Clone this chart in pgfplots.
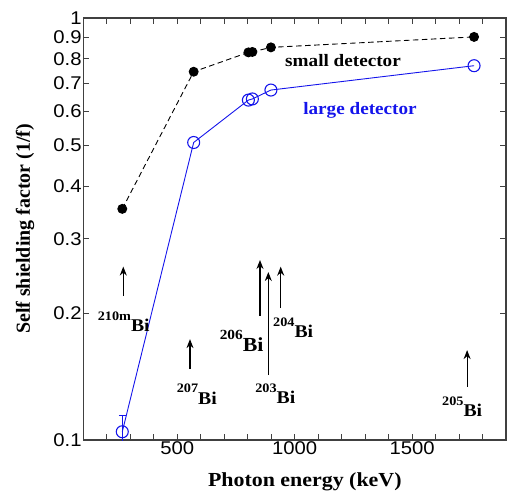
\documentclass[border=0pt]{standalone}
\usepackage{pgfplots}
\pgfplotsset{compat=1.18}
\usetikzlibrary{arrows.meta}
\usepackage{fontspec}
\setmainfont{Liberation Serif}
\newfontfamily\tickfont[FakeStretch=1.1]{Liberation Sans}
\newfontfamily\lblfont[FakeStretch=1.1]{Liberation Serif}
\newfontfamily\ylblfont{Liberation Serif}
\definecolor{lineblue}{RGB}{20,20,235}
% isotope label: raised mass number followed by the element symbol
\newcommand\iso[3][18]{{\lblfont\bfseries\fontsize{#1}{#1}\selectfont
  \raisebox{0.62em}{\fontsize{\numexpr #1*7/10\relax}{12}\selectfont #2}#3}}

\begin{document}
\begin{tikzpicture}
\begin{axis}[
  name=ax,
  scale only axis,
  width=422.7bp, height=422bp,
  xmin=100, xmax=1900,
  ymode=log, ymin=0.1, ymax=1,
  xtick={500,1000,1500},
  xticklabels={500,1000,1500},
  minor xtick={200,300,...,1900},
  ytick={0.1,0.2,0.3,0.4,0.5,0.6,0.7,0.8,0.9,1},
  yticklabels={0.1,0.2,0.3,0.4,0.5,0.6,0.7,0.8,0.9,1},
  minor ytick={},
  tick align=inside,
  major tick length=6bp, minor tick length=6bp,
  tick style={black!75, line width=0.8pt},
  axis line style={black!75, line width=1.1pt},
  /pgf/number format/assume math mode=true,
  tick label style={font=\tickfont\fontsize{18.5}{19}\selectfont, inner sep=1.5pt},
  xlabel={Photon energy (keV)},
  xlabel style={font=\lblfont\bfseries\fontsize{20}{20}\selectfont,
    at={(axis description cs:0.524,0)}, anchor=base, yshift=-46.7bp},
  ylabel={Self shielding factor (1/f)},
  ylabel style={font=\ylblfont\bfseries\fontsize{20}{20}\selectfont,
    at={(axis description cs:-0.138,0.5)}, anchor=center},
]
% error bars of the points that carry one
\addplot[black, draw=none, mark=none,
  error bars/.cd, y dir=both, y explicit,
  error bar style={solid, line width=0.9pt},
  error mark options={rotate=90, mark size=3bp, line width=0.9pt}]
  coordinates {(1764,0.902) +- (0,0.009)};
\addplot[lineblue, draw=none, mark=none,
  error bars/.cd, y dir=both, y explicit,
  error bar style={line width=0.9pt},
  error mark options={rotate=90, mark size=3.5bp, line width=0.9pt}]
  coordinates {(266,0.1046) +- (0,0.0096)};
% small detector
\addplot[black, dash pattern=on 5.5bp off 3.5bp, line width=0.9pt,
  mark=*, mark size=4.5bp, mark options={solid, fill=black}]
  coordinates {
  (266,0.353)
  (570,0.746)
  (803,0.829)
  (820,0.831)
  (899,0.852)
  (1764,0.902)
};
% large detector
\addplot[lineblue, line width=0.9pt,
  mark=o, mark size=6bp, mark options={solid, fill=white, line width=1.1pt}]
  coordinates {
  (266,0.1046)
  (570,0.507)
  (803,0.639)
  (820,0.643)
  (899,0.675)
  (1764,0.771)
};
% series names
\node[anchor=base, font=\lblfont\bfseries\fontsize{17.5}{18}\selectfont, black]
  at (rel axis cs:0.6144,0.8846) {small detector};
\node[anchor=base, font=\lblfont\bfseries\fontsize{17.5}{18}\selectfont, lineblue]
  at (rel axis cs:0.6546,0.7718) {large detector};
% gamma lines of the bismuth isotopes
\begin{scope}[-{Stealth[length=9bp,width=7bp]}, line width=1.1pt, black]
\draw (rel axis cs:0.0946,0.341) -- (rel axis cs:0.0946,0.411);
\draw (rel axis cs:0.2524,0.168) -- (rel axis cs:0.2524,0.239);
\draw (rel axis cs:0.418,0.294) -- (rel axis cs:0.418,0.4265);
\draw (rel axis cs:0.4377,0.154) -- (rel axis cs:0.4377,0.398);
\draw (rel axis cs:0.467,0.3128) -- (rel axis cs:0.467,0.4107);
\draw (rel axis cs:0.908,0.126) -- (rel axis cs:0.908,0.213);
\end{scope}
\node[anchor=base, inner sep=0pt] at (rel axis cs:0.0958,0.2566) {\iso{210m}{Bi}};
\node[anchor=base, inner sep=0pt] at (rel axis cs:0.2685,0.0853) {\iso{207}{Bi}};
\node[anchor=base, inner sep=0pt] at (rel axis cs:0.3747,0.2092) {\iso[20]{206}{Bi}};
\node[anchor=base, inner sep=0pt] at (rel axis cs:0.4543,0.0869) {\iso{203}{Bi}};
\node[anchor=base, inner sep=0pt] at (rel axis cs:0.4965,0.2433) {\iso{204}{Bi}};
\node[anchor=base, inner sep=0pt] at (rel axis cs:0.8963,0.0553) {\iso{205}{Bi}};
\end{axis}
\pgfresetboundingbox
\path ([xshift=-83.3bp,yshift=-51bp]ax.south west) rectangle ([xshift=1bp,yshift=18bp]ax.north east);
\end{tikzpicture}
\end{document}
